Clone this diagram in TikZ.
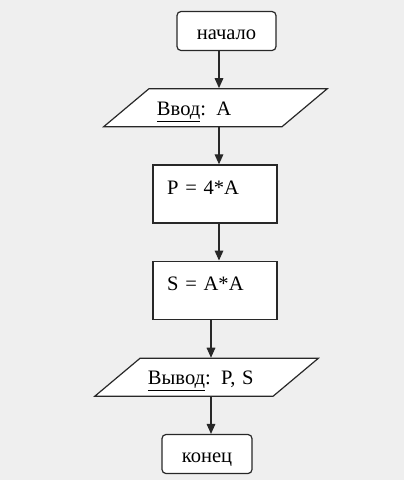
\documentclass[tikz,border=0pt]{standalone}
\usepackage{fontspec}
\setmainfont{Liberation Serif}
\usetikzlibrary{arrows.meta,shapes.geometric,positioning}
\definecolor{bggray}{RGB}{239,239,239}
\definecolor{linegray}{RGB}{40,40,40}

\begin{document}
\begin{tikzpicture}[x=0.75pt, y=-0.75pt,
      >={Triangle[length=7.5pt,width=6.5pt]},
      font=\fontsize{15.4}{18}\selectfont, line width=0.9pt,
      term/.style={draw=linegray, fill=white, rounded corners=3pt,
                   minimum height=29.25pt, inner sep=0pt,
                   text height=13.5pt, text depth=0.5pt},
      iobox/.style={draw=linegray, fill=white, trapezium,
                    trapezium left angle=40, trapezium right angle=140,
                    text width=87.75pt, align=left, inner xsep=6pt,
                    inner ysep=7.25pt, text height=12.5pt, text depth=1.5pt},
      procbox/.style={draw=linegray, fill=white, minimum width=93pt,
                      minimum height=43.5pt, text width=72pt, align=left,
                      inner xsep=10.5pt, inner ysep=0pt,
                      text height=12.5pt, text depth=11.3pt},
      arr/.style={->, draw=linegray}
    ]
    \fill[bggray] (0,0) rectangle (404,480);

    \node[term, minimum width=74.25pt] (start) at (226.5,31) {начало};

    \node[iobox, below=27.75pt of start, xshift=-8.25pt] (in)
          {\underline{Ввод}: A};
    \draw[arr] ([xshift=-5.625pt]start.south) -- ([xshift=2.625pt]in.north);

    \node[procbox, below=27.75pt of in, xshift=-0.375pt] (p) {P = 4*A};
    \draw[arr] ([xshift=2.625pt]in.south) -- ([xshift=3pt]p.north);

    \node[procbox, below=27.75pt of p] (s) {S = A*A};
    \draw[arr] ([xshift=3pt]p.south) -- ([xshift=3pt]s.north);

    \node[iobox, below=28.5pt of s, xshift=-6.375pt] (out)
          {\underline{Вывод}: P, S};
    \draw[arr] ([xshift=-3pt]s.south) -- ([xshift=3.375pt]out.north);

    \node[term, minimum width=67.5pt, below=27.75pt of out, xshift=0.375pt]
          (end) {конец};
    \draw[arr] ([xshift=3.375pt]out.south) -- ([xshift=3pt]end.north);
  \end{tikzpicture}
\end{document}
